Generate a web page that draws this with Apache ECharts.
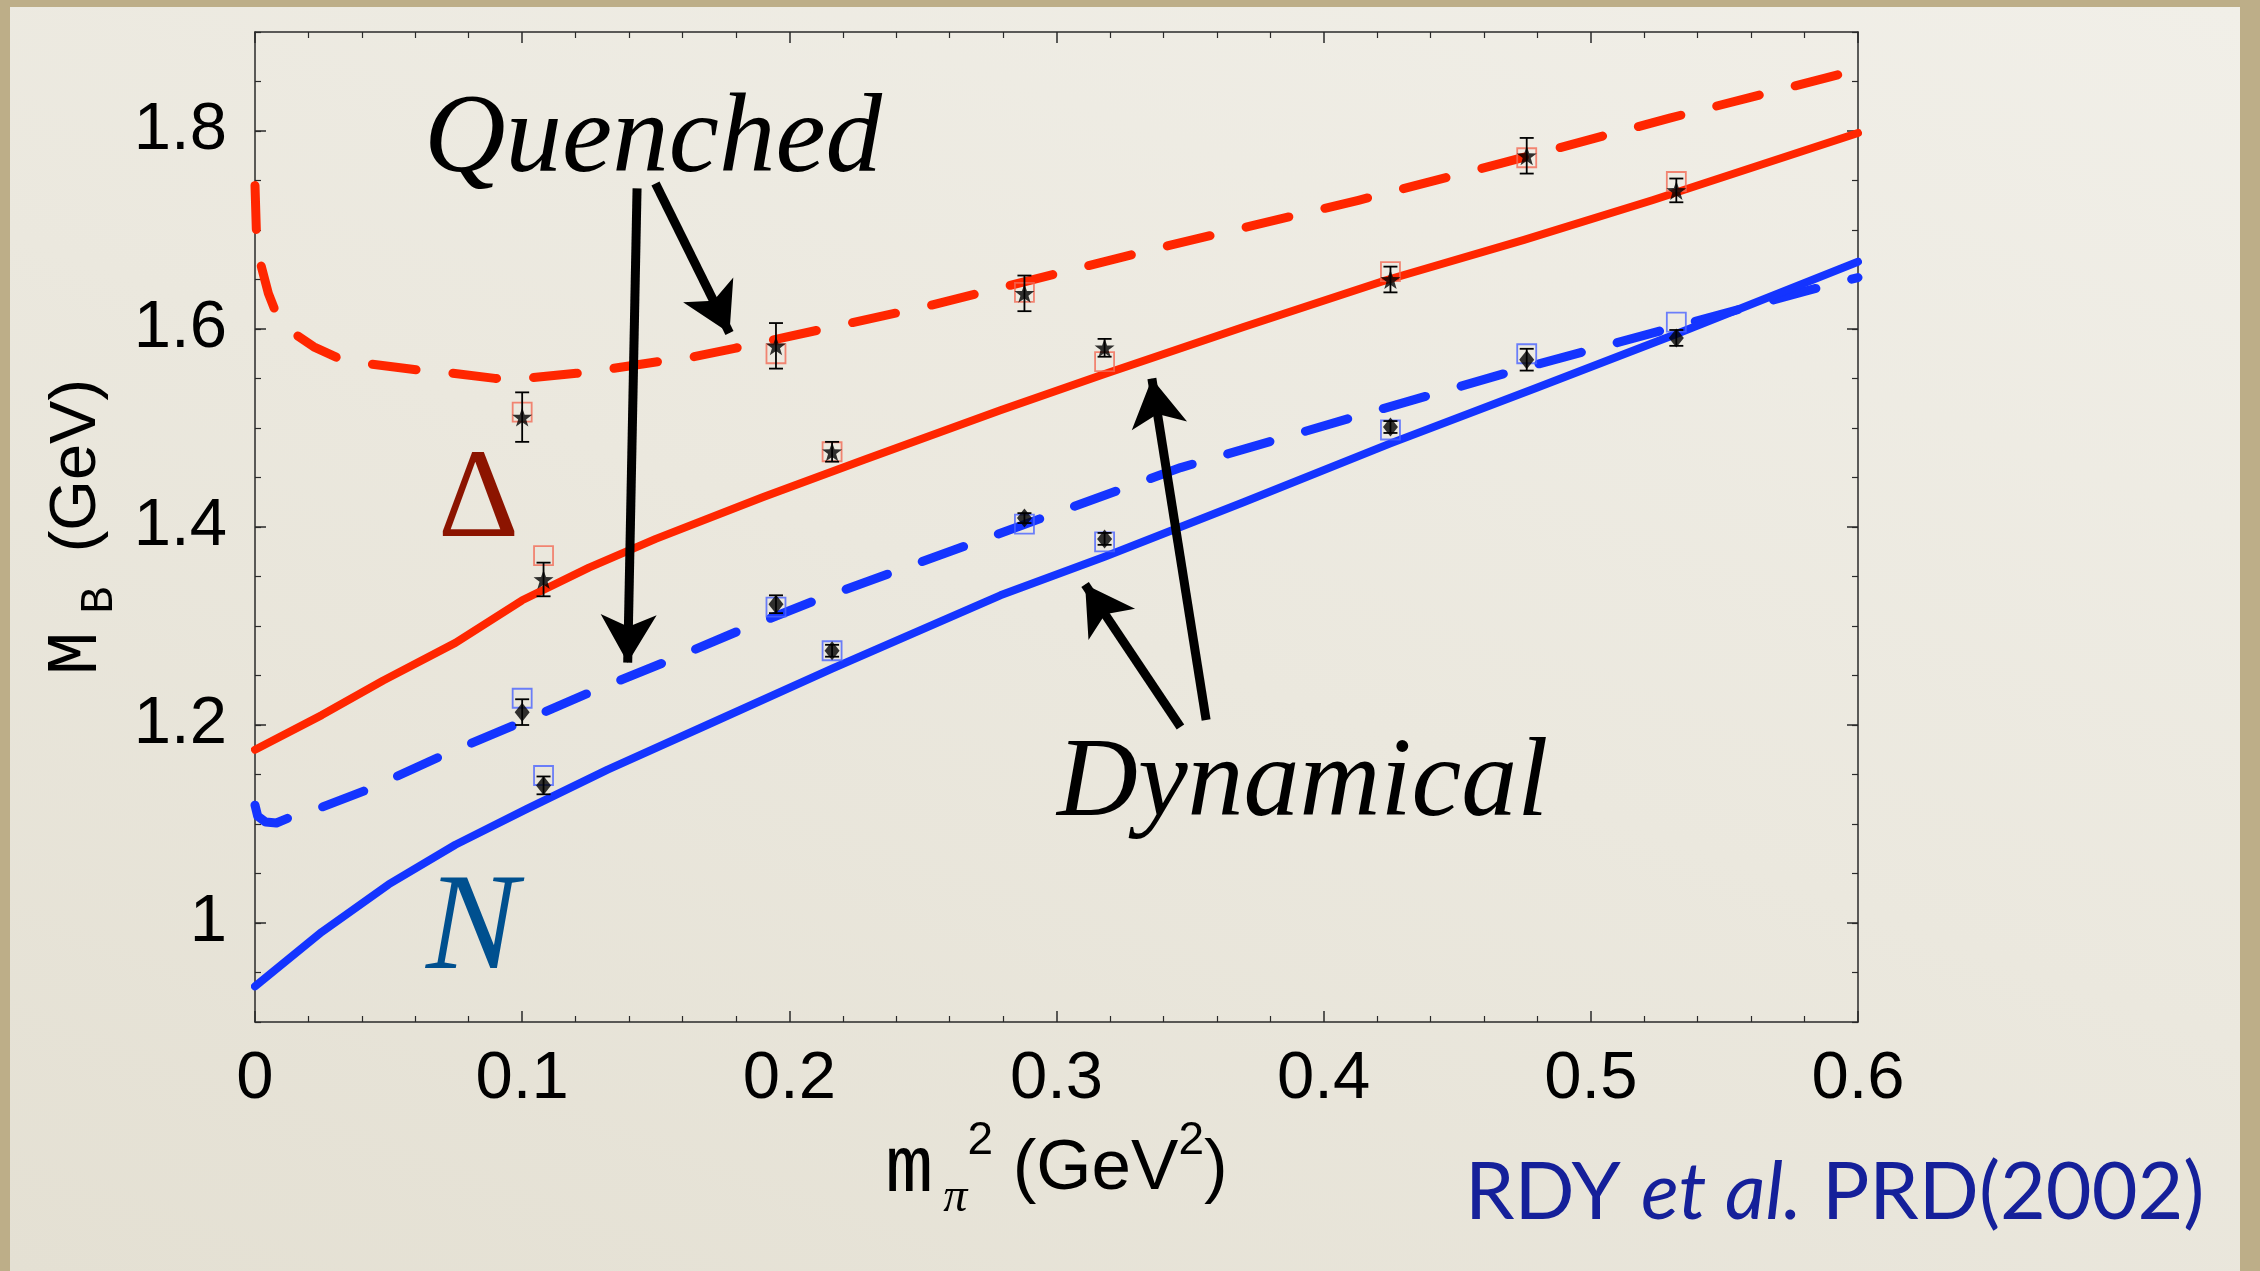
<!DOCTYPE html>
<html>
<head>
<meta charset="utf-8">
<script src="https://cdn.jsdelivr.net/npm/echarts@6/dist/echarts.min.js"></script>
<style>
  html, body { margin: 0; padding: 0; width: 2260px; height: 1271px; overflow: hidden; background: #bdae88; }
  #panel { position: absolute; left: 10px; top: 7px; width: 2230px; height: 1264px;
           background: linear-gradient(200deg, #f1efe8 0%, #ebe8de 50%, #e4e0d3 100%); }
  #chart { position: absolute; left: 0; top: 0; width: 2260px; height: 1271px; }
</style>
</head>
<body>
<div id="panel"></div>
<div id="chart"></div>
<script>
// Axis ticks
const xTickValues = [0, 0.1, 0.2, 0.3, 0.4, 0.5, 0.6];
const xTickLabels = ['0', '0.1', '0.2', '0.3', '0.4', '0.5', '0.6'];
const yTickValues = [1.0, 1.2, 1.4, 1.6, 1.8];
const yTickLabels = ['1', '1.2', '1.4', '1.6', '1.8'];

// Lattice points: pion mass squared (GeV^2)
const mPi2 = [0.100, 0.108, 0.195, 0.216, 0.288, 0.318, 0.425, 0.476, 0.532];

// Delta: lattice masses with errors, and fit values (squares)
const deltaMass = [1.511, 1.347, 1.583, 1.476, 1.636, 1.581, 1.650, 1.775, 1.740];
const deltaErr  = [0.025, 0.017, 0.023, 0.010, 0.018, 0.009, 0.013, 0.018, 0.012];
const deltaFit  = [1.516, 1.371, 1.575, 1.476, 1.637, 1.567, 1.658, 1.773, 1.749];

// Nucleon: lattice masses with errors, and fit values (squares)
const nucMass = [1.213, 1.139, 1.322, 1.275, 1.409, 1.388, 1.501, 1.569, 1.591];
const nucErr  = [0.013, 0.009, 0.009, 0.006, 0.005, 0.006, 0.006, 0.011, 0.008];
const nucFit  = [1.227, 1.149, 1.319, 1.275, 1.403, 1.385, 1.498, 1.575, 1.607];

// Quenched Delta curve (dashed red)
const deltaQX = [0, 0.0005, 0.002, 0.005, 0.0077, 0.0144, 0.022, 0.0316, 0.042, 0.0612, 0.0716, 0.0898,
                 0.1012, 0.1203, 0.1318, 0.1509, 0.1613, 0.1795, 0.191, 0.25, 0.337, 0.413, 0.466, 0.5295, 0.6];
const deltaQY = [1.745, 1.700, 1.667, 1.636, 1.6175, 1.596, 1.582, 1.570, 1.565, 1.5586, 1.5562, 1.5501,
                 1.5501, 1.5552, 1.5593, 1.567, 1.5704, 1.5805, 1.5872, 1.622, 1.681, 1.730, 1.767, 1.813, 1.862];

// Dynamical Delta curve (solid red)
const deltaDX = [0, 0.025, 0.048, 0.075, 0.1, 0.125, 0.15, 0.19, 0.228, 0.279, 0.318, 0.37, 0.423, 0.475, 0.523, 0.6];
const deltaDY = [1.175, 1.210, 1.245, 1.283, 1.326, 1.359, 1.388, 1.430, 1.468, 1.518, 1.5545, 1.602, 1.649, 1.690, 1.730, 1.798];

// Quenched nucleon curve (dashed blue)
const nucQX = [0, 0.001, 0.004, 0.008, 0.015, 0.025, 0.0424, 0.07, 0.098, 0.1255, 0.153, 0.181, 0.209, 0.237,
               0.266, 0.3465, 0.41, 0.4754, 0.53, 0.58, 0.6];
const nucQY = [1.119, 1.108, 1.102, 1.101, 1.109, 1.117, 1.135, 1.169, 1.201, 1.233, 1.263, 1.295, 1.325, 1.3526,
               1.381, 1.460, 1.510, 1.561, 1.601, 1.638, 1.652];

// Dynamical nucleon curve (solid blue)
const nucDX = [0, 0.025, 0.05, 0.075, 0.1016, 0.132, 0.17, 0.216, 0.279, 0.318, 0.37, 0.425, 0.48, 0.532, 0.6];
const nucDY = [0.936, 0.991, 1.039, 1.079, 1.115, 1.155, 1.201, 1.257, 1.331, 1.370, 1.425, 1.4845, 1.541, 1.595, 1.668];

// Annotation arrows: [x0, y0, x1(tip), y1(tip)]
const arrowsQuenched  = [[0.1430, 1.742, 0.1395, 1.263], [0.1499, 1.747, 0.1776, 1.596]];
const arrowsDynamical = [[0.3560, 1.205, 0.3357, 1.550], [0.3464, 1.198, 0.3107, 1.342]];

const RED = '#ff2600', BLUE = '#1434ff', INK = '#2a2a2a';
const zip = (xs, ys) => xs.map((x, i) => [x, ys[i]]);
const STAR = 'path://M0,-10L2.35,-3.24L9.51,-3.09L3.8,1.24L5.88,8.09L0,4L-5.88,8.09L-3.8,1.24L-9.51,-3.09L-2.35,-3.24Z';

const frameLine = { show: true, lineStyle: { color: INK, width: 1.5 } };
const majorTick = { show: true, inside: true, length: 11, lineStyle: { color: INK, width: 1.5 } };
const minorTickY = { show: true, inside: true, length: 6, lineStyle: { color: INK, width: 1.2 } };
const noLabel = { show: false };

function errorBars(xs, ys, es) {
  return {
    type: 'custom', z: 6, silent: true,
    data: xs.map((x, i) => [x, ys[i], es[i]]),
    renderItem(params, api) {
      const x = api.value(0), y = api.value(1), e = api.value(2);
      const hi = api.coord([x, y + e]), lo = api.coord([x, y - e]);
      const w = 7, st = { stroke: '#000', lineWidth: 1.8 };
      return { type: 'group', children: [
        { type: 'line', shape: { x1: hi[0], y1: hi[1], x2: lo[0], y2: lo[1] }, style: st },
        { type: 'line', shape: { x1: hi[0] - w, y1: hi[1], x2: hi[0] + w, y2: hi[1] }, style: st },
        { type: 'line', shape: { x1: lo[0] - w, y1: lo[1], x2: lo[0] + w, y2: lo[1] }, style: st }
      ]};
    }
  };
}

const arrowLines = arrowsQuenched.concat(arrowsDynamical)
  .map(a => [{ coord: [a[0], a[1]] }, { coord: [a[2], a[3]] }]);

const chart = echarts.init(document.getElementById('chart'), null, { width: 2260, height: 1271 });

chart.setOption({
  backgroundColor: 'transparent',
  animation: false,
  grid: { left: 255, top: 32, width: 1603, height: 990 },
  xAxis: [
    {
      type: 'value', min: 0, max: 0.6, interval: 0.1, position: 'bottom',
      axisLine: frameLine, axisTick: majorTick,
      minorTick: { show: true, splitNumber: 5, length: 6, lineStyle: { color: INK, width: 1.2 } },
      splitLine: { show: false }, minorSplitLine: { show: false },
      axisLabel: {
        margin: 24, color: '#000', fontSize: 67, fontFamily: 'Liberation Sans',
        formatter: v => xTickLabels[Math.round(v * 10)]
      },
      name: '{m|m}{p|π}{s|2}{g| (GeV}{s|2}{g|)}',
      nameLocation: 'middle', nameGap: 94,
      nameTextStyle: {
        color: '#000',
        rich: {
          m: { fontFamily: 'Liberation Mono', fontSize: 80, lineHeight: 104, verticalAlign: 'middle', color: '#000' },
          p: { fontFamily: 'Liberation Serif', fontStyle: 'italic', fontSize: 48, lineHeight: 46, verticalAlign: 'bottom', padding: [0, 0, 0, 10], color: '#000' },
          s: { fontFamily: 'Liberation Sans', fontSize: 46, lineHeight: 46, verticalAlign: 'top', color: '#000' },
          g: { fontFamily: 'Liberation Sans', fontSize: 71, lineHeight: 104, verticalAlign: 'middle', color: '#000' }
        }
      }
    },
    {
      type: 'value', min: 0, max: 0.6, interval: 0.1, position: 'top',
      axisLine: frameLine, axisTick: majorTick,
      minorTick: { show: true, splitNumber: 5, length: 6, lineStyle: { color: INK, width: 1.2 } },
      splitLine: { show: false }, minorSplitLine: { show: false }, axisLabel: noLabel
    }
  ],
  yAxis: [
    {
      type: 'value', min: 0.9, max: 1.9, position: 'left',
      axisLine: frameLine,
      axisTick: Object.assign({ customValues: yTickValues }, majorTick),
      splitLine: { show: false },
      axisLabel: {
        customValues: yTickValues, margin: 28, color: '#000', fontSize: 67, fontFamily: 'Liberation Sans',
        formatter: v => yTickLabels[yTickValues.findIndex(t => Math.abs(t - v) < 1e-6)]
      },
      name: '{m|M}{b|B}{g|(GeV)}',
      nameLocation: 'middle', nameRotate: 90, nameGap: 128,
      nameTextStyle: {
        color: '#000',
        rich: {
          m: { fontFamily: 'Liberation Mono', fontSize: 72, lineHeight: 92, verticalAlign: 'middle', color: '#000' },
          b: { fontFamily: 'Liberation Mono', fontSize: 46, lineHeight: 44, verticalAlign: 'bottom', padding: [0, 0, 0, 18], color: '#000' },
          g: { fontFamily: 'Liberation Sans', fontSize: 65, lineHeight: 92, verticalAlign: 'middle', padding: [0, 0, 0, 34], color: '#000' }
        }
      }
    },
    {
      type: 'value', min: 0.9, max: 1.9, interval: 0.05, position: 'left',
      axisLine: { show: false }, axisTick: minorTickY, splitLine: { show: false }, axisLabel: noLabel
    },
    {
      type: 'value', min: 0.9, max: 1.9, position: 'right',
      axisLine: frameLine,
      axisTick: Object.assign({ customValues: yTickValues }, majorTick),
      splitLine: { show: false }, axisLabel: noLabel
    },
    {
      type: 'value', min: 0.9, max: 1.9, interval: 0.05, position: 'right',
      axisLine: { show: false }, axisTick: minorTickY, splitLine: { show: false }, axisLabel: noLabel
    }
  ],
  series: [
    { type: 'line', name: 'Delta quenched', data: zip(deltaQX, deltaQY), symbol: 'none', z: 2,
      lineStyle: { color: RED, width: 9, type: [44, 37], cap: 'round', join: 'round' } },
    { type: 'line', name: 'Delta dynamical', data: zip(deltaDX, deltaDY), symbol: 'none', z: 2,
      lineStyle: { color: RED, width: 8, cap: 'round', join: 'round' } },
    { type: 'line', name: 'N quenched', data: zip(nucQX, nucQY), symbol: 'none', z: 2,
      lineStyle: { color: BLUE, width: 9, type: [44, 37], cap: 'round', join: 'round' },
      markLine: {
        silent: true, symbol: ['none', 'arrow'], symbolSize: [42, 48], precision: 4,
        lineStyle: { color: '#000', width: 9, type: 'solid' },
        label: { show: false }, emphasis: { disabled: true },
        data: arrowLines
      } },
    { type: 'line', name: 'N dynamical', data: zip(nucDX, nucDY), symbol: 'none', z: 2,
      lineStyle: { color: BLUE, width: 8, cap: 'round', join: 'round' } },

    { type: 'scatter', name: 'Delta fit', data: zip(mPi2, deltaFit), symbol: 'rect', symbolSize: 19, z: 4,
      itemStyle: { color: 'transparent', borderColor: '#f26a55', borderWidth: 1.8 } },
    { type: 'scatter', name: 'N fit', data: zip(mPi2, nucFit), symbol: 'rect', symbolSize: 19, z: 4,
      itemStyle: { color: 'transparent', borderColor: '#4a63ff', borderWidth: 1.8 } },

    errorBars(mPi2, deltaMass, deltaErr),
    errorBars(mPi2, nucMass, nucErr),

    { type: 'scatter', name: 'Delta lattice', data: zip(mPi2, deltaMass), symbol: STAR, symbolKeepAspect: true,
      symbolSize: 20, z: 7, itemStyle: { color: '#000' } },
    { type: 'scatter', name: 'N lattice', data: zip(mPi2, nucMass), symbol: 'diamond',
      symbolSize: [15, 19], z: 7, itemStyle: { color: '#000' } }
  ],
  graphic: [
    { type: 'text', z: 10, style: { x: 424, y: 141, text: 'Quenched', fill: '#000',
      font: 'italic 113px "Liberation Serif"', verticalAlign: 'middle' } },
    { type: 'text', z: 10, style: { x: 1057, y: 786, text: 'Dynamical', fill: '#000',
      font: 'italic 112px "Liberation Serif"', verticalAlign: 'middle' } },
    { type: 'text', z: 10, style: { x: 438, y: 503, text: 'Δ', fill: '#8c1400',
      font: '126px "Liberation Serif"', verticalAlign: 'middle' } },
    { type: 'text', z: 10, style: { x: 426, y: 932, text: 'N', fill: '#00508f',
      font: 'italic 138px "Liberation Serif"', verticalAlign: 'middle' } },
    { type: 'text', z: 10, style: { x: 1465, y: 1194, text: '{n|RDY }{i|et al.}{n| PRD(2002)}',
      verticalAlign: 'middle',
      rich: {
        n: { fontFamily: 'Lato', fontSize: 79, fill: '#15209a' },
        i: { fontFamily: 'Lato', fontStyle: 'italic', fontSize: 79, fill: '#15209a' }
      } } }
  ]
});
</script>
</body>
</html>
